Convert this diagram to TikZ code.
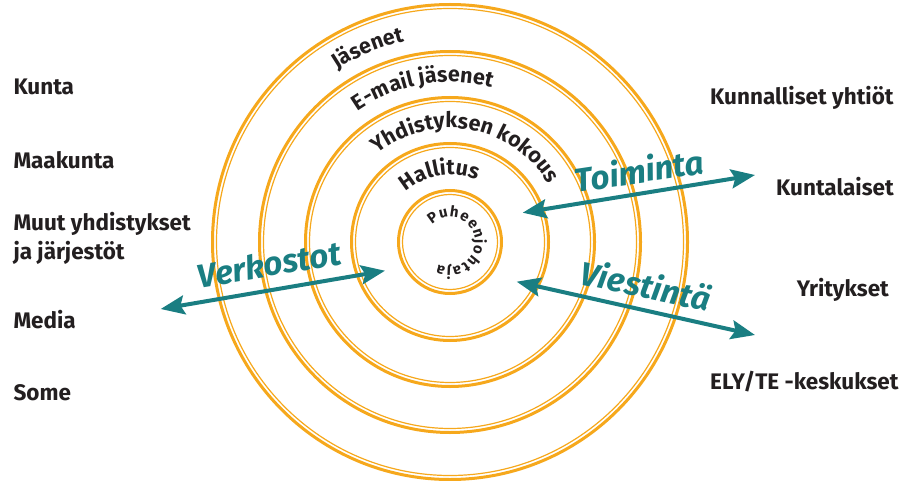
\documentclass[tikz,border=0pt]{standalone}
\usepackage{fontspec}
\setmainfont{Fira Sans}
\usetikzlibrary{arrows.meta,decorations.text}
\definecolor{ringorange}{HTML}{F6A81C}
\definecolor{flowteal}{HTML}{1A7E82}
\definecolor{labelgray}{HTML}{231F20}
\newcommand{\ringfont}{\bfseries\fontsize{21.5}{21.5}\selectfont}
\newcommand{\hubfont}{\bfseries\fontsize{15}{15}\selectfont}
\tikzset{
    ringthick/.style={draw=ringorange, line width=3pt},
    ringthin/.style={draw=ringorange, line width=1.2pt},
    sidelabel/.style={anchor=base west, inner sep=0pt, text=labelgray, align=left,
        font=\bfseries\fontsize{22.5}{28.7}\selectfont},
    flowarrow/.style={draw=flowteal, line width=4pt,
        >={Stealth[length=24pt,width=19pt,inset=4pt]}, <->},
    flowlabel/.style={text=flowteal, inner sep=0pt,
        font=\bfseries\itshape\fontsize{33}{33}\selectfont},
    ringtext/.style 2 args={decorate, decoration={text along path,
        text align=center, text color=labelgray, text={|#1|#2}}},
    hubtext/.style={decorate, decoration={text along path,
        text align=fit to path, text color=labelgray, text={|\hubfont|#1}}}
}
\begin{document}
\begin{tikzpicture}[x=1pt,y=1pt]
                \useasboundingbox (0,0) rectangle (904,480);
                \coordinate (c) at (450,238);

                \foreach \r in {50,97,143,189,236} {
                    \draw[ringthick] (c) circle[radius=\r+1.5];
                    \draw[ringthin] (c) circle[radius=\r-2.5];
                }

                \path[ringtext={\ringfont}{Jäsenet}] ([shift={(163:206)}]c) arc[start angle=163, end angle=63, radius=206];
                \path[ringtext={\ringfont}{E-mail jäsenet}] ([shift={(160:160)}]c) arc[start angle=160, end angle=40, radius=160];
                \path[ringtext={\ringfont}{Yhdistyksen kokous}] ([shift={(150:114)}]c) arc[start angle=150, end angle=10, radius=114];
                \path[ringtext={\ringfont}{Hallitus}] ([shift={(159:67)}]c) arc[start angle=159, end angle=39, radius=67];
                \path[hubtext={Puheenjohtaja}] ([shift={(136:25)}]c) arc[start angle=136, end angle=-118, radius=25];

                \node[sidelabel] at (13.3,385) (kunta) {Kunta};
                \node[sidelabel] at (13.3,311.7) (maakunta) {Maakunta};
                \node[sidelabel] at (13.3,220.7) (muut) {Muut yhdistykset\\ja järjestöt};
                \node[sidelabel] at (13.3,151.7) (media) {Media};
                \node[sidelabel] at (13.3,80) (some) {Some};

                \node[sidelabel] at (710,375.7) (yhtiot) {Kunnalliset yhtiöt};
                \node[sidelabel] at (776,284) (kuntalaiset) {Kuntalaiset};
                \node[sidelabel] at (796.7,184) (yritykset) {Yritykset};
                \node[sidelabel] at (710,90.7) (ely) {ELY/TE -keskukset};

                \coordinate (toim-in) at (522.7,267.3);
                \coordinate (toim-out) at (755,305);
                \coordinate (vies-in) at (516.7,198.3);
                \coordinate (vies-out) at (755,145);
                \coordinate (verk-out) at (160.7,171);
                \coordinate (verk-in) at (385,209.3);

                \draw[flowarrow] (toim-in) -- (toim-out);
                \draw[flowarrow] (vies-in) -- (vies-out);
                \draw[flowarrow] (verk-out) -- (verk-in);

                \node[flowlabel, rotate=8.5] at (639,310) (toiminta) {Toiminta};
                \node[flowlabel, rotate=-12] at (646,195) (viestinta) {Viestintä};
                \node[flowlabel, rotate=9.5] at (269,216) (verkostot) {Verkostot};

            \end{tikzpicture}
\end{document}
